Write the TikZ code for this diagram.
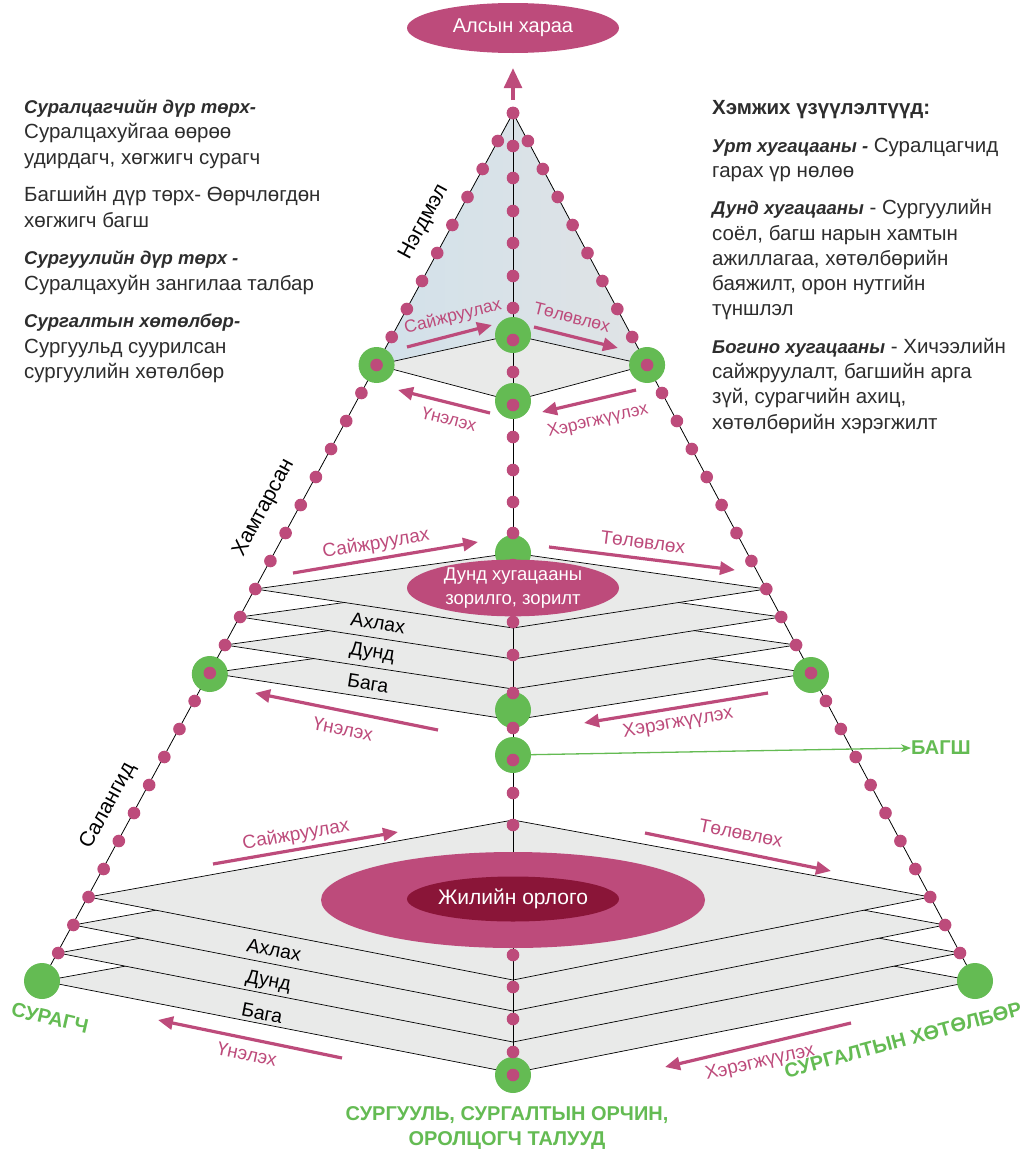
\documentclass[tikz,border=0pt]{standalone}
\usepackage{fontspec}
\setmainfont{Liberation Sans}
\usetikzlibrary{arrows.meta,positioning,shapes.geometric}
\definecolor{rose}{RGB}{189,75,123}
\definecolor{wine}{RGB}{138,21,56}
\definecolor{leaf}{RGB}{100,187,83}
\definecolor{slabgray}{RGB}{233,234,233}
\definecolor{ink}{RGB}{45,45,45}
\definecolor{faceL}{RGB}{210,225,234}
\definecolor{faceR}{RGB}{224,227,229}
\newcommand{\sz}[1]{\fontsize{#1}{#1}\selectfont}
\newcommand{\lead}[1]{{\fontsize{18.5}{25.7}\selectfont\bfseries\itshape #1}}

\begin{document}
\begin{tikzpicture}[x=1pt, y=-1pt,
  slab/.style={fill=slabgray, draw=black, line width=0.7pt, line join=round},
  edge/.style={draw=black, line width=0.8pt},
  hub/.style={circle, fill=leaf, minimum size=36pt, inner sep=0pt},
  flow/.style={draw=rose, line width=3.2pt, -{Triangle[length=15pt,width=13pt]}},
  flowtxt/.style={text=rose, font=\sz{19}, inner sep=0pt},
  tier/.style={font=\sz{19.5}, inner sep=0pt},
  goal/.style={ellipse, fill=rose, text=white, inner sep=0pt},
  actor/.style={text=leaf, font=\bfseries\sz{20}, inner sep=0pt},
  note/.style={text=ink, align=left, inner sep=0pt, anchor=north west}]
  \useasboundingbox (0,0) rectangle (1033,1154);

  % frame of the pyramid
  \coordinate (apex) at (513,113);
  \coordinate (base) at (513,1075);
  \coordinate (footL) at (42,981);
  \coordinate (footR) at (975,981);
  \coordinate (L9) at (513-15.16*9, 365);
  \coordinate (R9) at (513+14.9*9, 365);
  \coordinate (T9) at (513,335);
  \shade[left color=faceL, right color=faceR] (apex) -- (L9) -- (T9) -- (R9) -- cycle;

  % layers, lowest first
  \foreach \k/\t/\b in {31/896/1073, 30/871/1042, 29/846/1011, 28/820/980,
                        20/631/720, 19/605/689, 18/579/659, 17/553/628, 9/335/401}
    \draw[slab] (513-15.16*\k, 113+28*\k) -- (513,\t) -- (513+14.9*\k, 113+28*\k) -- (513,\b) -- cycle;

  \draw[edge] (apex) -- (footL);
  \draw[edge] (apex) -- (footR);
  \draw[edge] (apex) -- (base);

  % green hubs
  \node[hub] (gL1) at (L9) {};
  \node[hub] (gR1) at (R9) {};
  \node[hub] (gC1) at (513,335) {};
  \node[hub] (gC2) at (513,401) {};
  \node[hub] (gL2) at (513-15.16*20, 674) {};
  \node[hub] (gR2) at (513+14.9*20, 675) {};
  \node[hub] (gC3) at (513,553) {};
  \node[hub] (gC4) at (513,710) {};
  \node[hub] (gT) at (513,755) {};
  \node[hub] (gL3) at (footL) {};
  \node[hub] (gR3) at (footR) {};
  \node[hub] (gC5) at (base) {};

  % beads
  \foreach \k in {0,...,30} {
    \fill[rose] (513-15.16*\k, 113+28*\k) circle (6.3pt);
    \fill[rose] (513+14.9*\k, 113+28*\k) circle (6.3pt);
  }
  \foreach \y in {146,178,211,243,276,308,340,372,405,437,470,502,533,565,
                  622,655,693,728,760,793,825,955,987,1019,1052,1075}
    \fill[rose] (513,\y) circle (6.3pt);

  % goals
  \node[goal, minimum width=212pt, minimum height=50pt, font=\sz{20}] (vision) at (513,28) {Алсын хараа};
  \coordinate (peak) at (513,100);
  \draw[draw=rose, line width=3.2pt, -{Triangle[length=20pt,width=18pt]}] (peak) -- ([yshift=-15pt]vision.south);
  \node[goal, minimum width=212pt, minimum height=50pt, align=center,
        font=\fontsize{18.5}{23.5}\selectfont] (midgoal) at (513,588) {Дунд хугацааны\\зорилго, зорилт};
  \node[goal, minimum width=384pt, minimum height=96pt] (yearout) at (513,900) {};
  \node[ellipse, fill=wine, minimum width=180pt, minimum height=45pt, inner sep=0pt,
        text=white, font=\sz{21}] (yearin) at (513,899) {Жилийн орлого};

  % cycle arrows
  \foreach \n/\ax/\ay/\bx/\by in {imp1/407/347/492/325, plan1/534/327/618/348,
      eval1/490/413/398/390, do1/636/390/542/412,
      imp2/293/573/478/542, plan2/549/547/735/570,
      eval2/438/730/255/693, do2/768/693/584/723,
      imp3/213/864/398/832, plan3/645/833/831/871,
      eval3/342/1058/158/1020, do3/851/1023/665/1067} {
    \coordinate (\n a) at (\ax,\ay);
    \coordinate (\n b) at (\bx,\by);
    \draw[flow] (\n a) -- (\n b);
  }
  \node[flowtxt, font=\sz{17.5}, rotate=14] (imp1t) at (453,317) {Сайжруулах};
  \node[flowtxt, font=\sz{17.5}, rotate=-14] (plan1t) at (572,317) {Төлөвлөх};
  \node[flowtxt, font=\sz{17.5}, rotate=-14] (eval1t) at (449,419) {Үнэлэх};
  \node[flowtxt, font=\sz{17.5}, rotate=13] (do1t) at (598,421) {Хэрэгжүүлэх};
  \node[flowtxt, rotate=9.5] (imp2t) at (376,544) {Сайжруулах};
  \node[flowtxt, rotate=-7] (plan2t) at (643,542) {Төлөвлөх};
  \node[flowtxt, rotate=-11] (eval2t) at (343,729) {Үнэлэх};
  \node[flowtxt, rotate=10] (do2t) at (678,723) {Хэрэгжүүлэх};
  \node[flowtxt, rotate=10] (imp3t) at (296,835) {Сайжруулах};
  \node[flowtxt, rotate=-11] (plan3t) at (741,833) {Төлөвлөх};
  \node[flowtxt, rotate=-12] (eval3t) at (247,1054) {Үнэлэх};
  \node[flowtxt, rotate=13] (do3t) at (760,1063) {Хэрэгжүүлэх};

  % levels
  \node[tier, rotate=-9] (mid1) at (378,623) {Ахлах};
  \node[tier, rotate=-9] (mid2) at (372,653) {Дунд};
  \node[tier, rotate=-9] (mid3) at (368,683) {Бага};
  \node[tier, rotate=-11] (low1) at (274,950) {Ахлах};
  \node[tier, rotate=-11] (low2) at (268,982) {Дунд};
  \node[tier, rotate=-11] (low3) at (262,1013) {Бага};
  \node[tier, font=\sz{21}, rotate=61.6] (united) at (424,222) {Нэгдмэл};
  \node[tier, font=\sz{21}, rotate=61.6] (joint) at (264,508) {Хамтарсан};
  \node[tier, font=\sz{21}, rotate=61.6] (apart) at (108,806) {Салангид};

  % actors
  \node[actor, anchor=west] (bagsh) at (911,748) {БАГШ};
  \draw[leaf, line width=1.3pt, -{Stealth[length=10pt,width=8pt]}] (gT) -- (bagsh.west);
  \node[actor, rotate=-13] (pupil) at (50,1018) {СУРАГЧ};
  \node[actor, rotate=15] (course) at (903,1040) {СУРГАЛТЫН ХӨТӨЛБӨР};
  \node[actor, align=center, font=\bfseries\fontsize{20}{25.5}\selectfont] (school) at (507,1128)
    {СУРГУУЛЬ, СУРГАЛТЫН ОРЧИН,\\ОРОЛЦОГЧ ТАЛУУД};

  % side notes
  \node[note, font=\fontsize{20.5}{25.7}\selectfont] (portrait) at (24,99)
    {\lead{Суралцагчийн дүр төрх-}\\
     Суралцахуйгаа өөрөө\\
     удирдагч, хөгжигч сурагч\\[11.5pt]
     Багшийн дүр төрх- Өөрчлөгдөн\\
     хөгжигч багш\\[11.5pt]
     \lead{Сургуулийн дүр төрх -}\\
     Суралцахуйн зангилаа талбар\\[11.5pt]
     \lead{Сургалтын хөтөлбөр-}\\
     Сургуульд суурилсан\\
     сургуулийн хөтөлбөр};
  \node[note, font=\fontsize{20.5}{25.2}\selectfont] (measures) at (712,100)
    {{\bfseries Хэмжих үзүүлэлтүүд:}\\[12.5pt]
     \lead{Урт хугацааны -} Суралцагчид\\
     гарах үр нөлөө\\[12.5pt]
     \lead{Дунд хугацааны} - Сургуулийн\\
     соёл, багш нарын хамтын\\
     ажиллагаа, хөтөлбөрийн\\
     баяжилт, орон нутгийн\\
     түншлэл\\[12.5pt]
     \lead{Богино хугацааны} - Хичээлийн\\
     сайжруулалт, багшийн арга\\
     зүй, сурагчийн ахиц,\\
     хөтөлбөрийн хэрэгжилт};
\end{tikzpicture}
\end{document}
